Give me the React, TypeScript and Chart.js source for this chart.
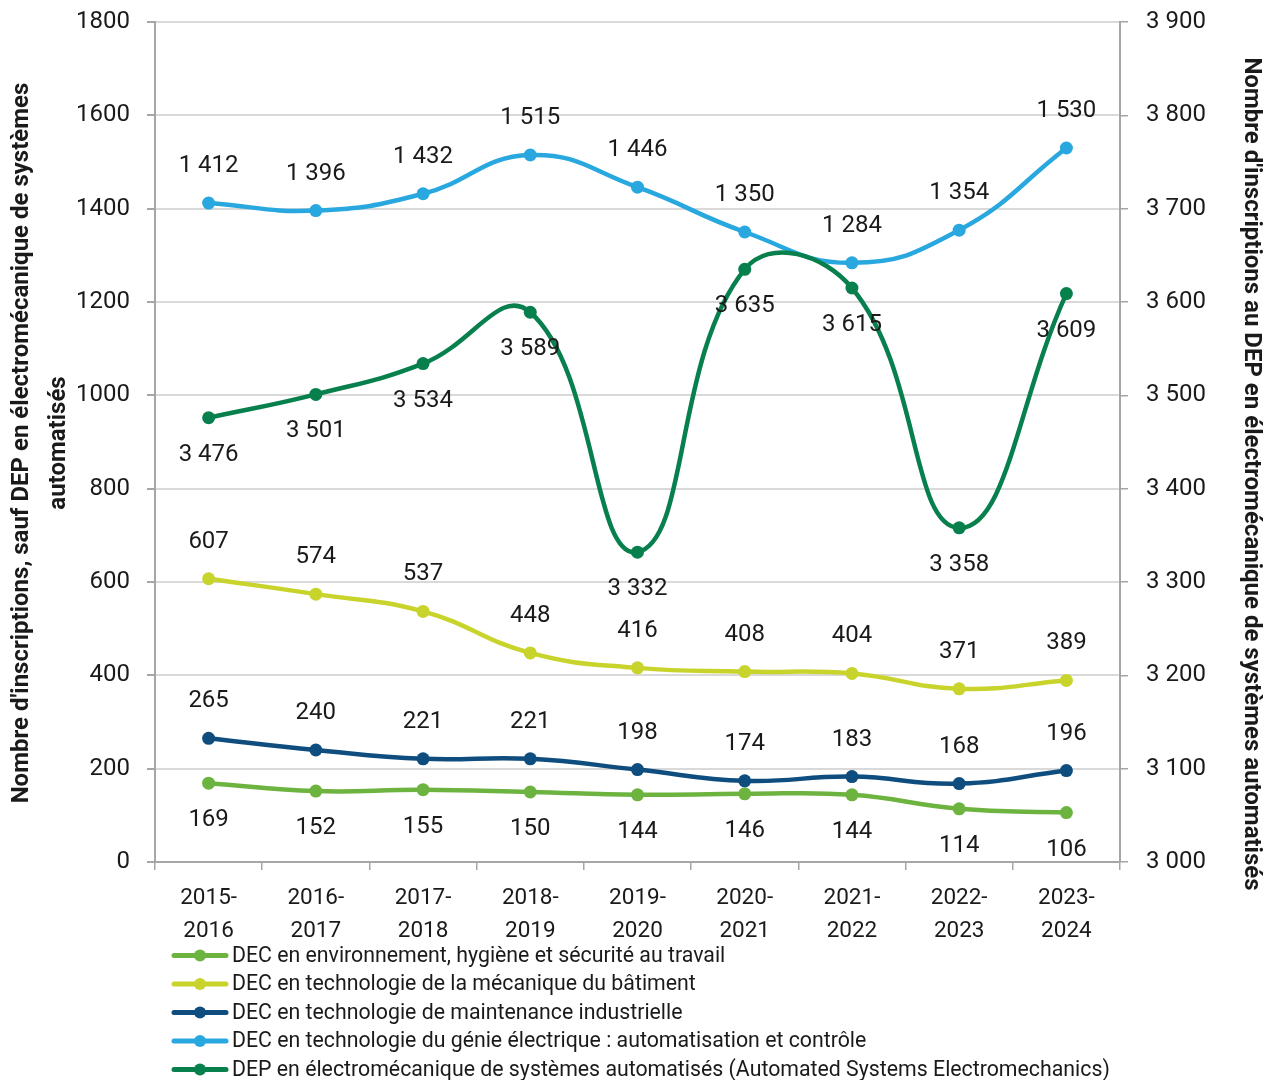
import React, { useEffect, useRef } from "react";
import { Chart, registerables } from "chart.js";

Chart.register(...registerables);

const categories: string[][] = [
  ["2015-", "2016"],
  ["2016-", "2017"],
  ["2017-", "2018"],
  ["2018-", "2019"],
  ["2019-", "2020"],
  ["2020-", "2021"],
  ["2021-", "2022"],
  ["2022-", "2023"],
  ["2023-", "2024"],
];

const envHygiene = [169, 152, 155, 150, 144, 146, 144, 114, 106];
const mecaBatiment = [607, 574, 537, 448, 416, 408, 404, 371, 389];
const maintenance = [265, 240, 221, 221, 198, 174, 183, 168, 196];
const genieElec = [1412, 1396, 1432, 1515, 1446, 1350, 1284, 1354, 1530];
const depElectromeca = [3476, 3501, 3534, 3589, 3332, 3635, 3615, 3358, 3609];

const seriesNames = [
  "DEC en environnement, hygiène et sécurité au travail",
  "DEC en technologie de la mécanique du bâtiment",
  "DEC en technologie de maintenance industrielle",
  "DEC en technologie du génie électrique : automatisation et contrôle",
  "DEP en électromécanique de systèmes automatisés (Automated Systems Electromechanics)",
];
const seriesColors = ["#6db33f", "#c8d42c", "#0e4d7e", "#29a7df", "#08804e"];
const labelSides = ["below", "above", "above", "above", "below"];

const leftTicks = [0, 200, 400, 600, 800, 1000, 1200, 1400, 1600, 1800];
const rightTicks = [3000, 3100, 3200, 3300, 3400, 3500, 3600, 3700, 3800, 3900];

const leftTitle = ["Nombre d'inscriptions, sauf DEP en électromécanique de systèmes", "automatisés"];
const rightTitle = "Nombre d'inscriptions au DEP en électromécanique de systèmes automatisés";

const FONT = "Roboto, 'Noto Sans', sans-serif";
const TEXT = "#1a1a1a";

const fmt = (v: number) => String(v).replace(/\B(?=(\d{3})+(?!\d))/g, " ");

const labelPlugin = {
  id: "dataLabels",
  afterDatasetsDraw(chart: any) {
    const ctx = chart.ctx;
    ctx.save();
    ctx.font = `24px ${FONT}`;
    ctx.fillStyle = TEXT;
    ctx.textAlign = "center";
    ctx.textBaseline = "middle";
    chart.data.datasets.forEach((ds: any, i: number) => {
      const meta = chart.getDatasetMeta(i);
      meta.data.forEach((pt: any, j: number) => {
        const off = labelSides[i] === "above" ? -37 : 37;
        ctx.fillText(fmt(ds.data[j]), pt.x, pt.y + off);
      });
    });
    ctx.restore();
  },
};

const decorPlugin = {
  id: "decor",
  afterDraw(chart: any) {
    const ctx = chart.ctx;
    const area = chart.chartArea;
    const cy = (area.top + area.bottom) / 2;
    ctx.save();
    ctx.fillStyle = TEXT;
    ctx.font = `bold 24px ${FONT}`;
    ctx.textAlign = "center";
    ctx.textBaseline = "middle";
    // left title
    ctx.save();
    ctx.translate(22, cy + 1);
    ctx.rotate(-Math.PI / 2);
    ctx.fillText(leftTitle[0], 0, 0);
    ctx.restore();
    ctx.save();
    ctx.translate(59, cy + 1);
    ctx.rotate(-Math.PI / 2);
    ctx.fillText(leftTitle[1], 0, 0);
    ctx.restore();
    // right title
    ctx.save();
    ctx.translate(1251, 474);
    ctx.rotate(Math.PI / 2);
    ctx.fillText(rightTitle, 0, 0);
    ctx.restore();

    // legend
    ctx.font = `21.3px ${FONT}`;
    ctx.textAlign = "left";
    seriesNames.forEach((name, i) => {
      const y = 955.5 + i * 28.5;
      ctx.strokeStyle = seriesColors[i];
      ctx.lineWidth = 5;
      ctx.lineCap = "round";
      ctx.beginPath();
      ctx.moveTo(174, y);
      ctx.lineTo(226, y);
      ctx.stroke();
      ctx.fillStyle = seriesColors[i];
      ctx.beginPath();
      ctx.arc(200, y, 6, 0, Math.PI * 2);
      ctx.fill();
      ctx.fillStyle = TEXT;
      ctx.fillText(name, 232, y + 1);
    });
    ctx.restore();
  },
};

export default function App() {
  const ref = useRef<HTMLCanvasElement>(null);
  useEffect(() => {
    if (!ref.current) return;
    Chart.defaults.font.family = FONT;
    const seriesData = [envHygiene, mecaBatiment, maintenance, genieElec, depElectromeca];
    const chart = new Chart(ref.current, {
      type: "line",
      data: {
        labels: categories as any,
        datasets: seriesData.map((d, i) => ({
          label: seriesNames[i],
          data: d,
          borderColor: seriesColors[i],
          backgroundColor: seriesColors[i],
          borderWidth: 4.5,
          pointRadius: 6.5,
          pointHoverRadius: 6.5,
          pointBorderWidth: 0,
          tension: 0.45,
          fill: false,
          yAxisID: i === 4 ? "y2" : "y",
          order: i === 4 ? 0 : 5 - i,
        })),
      },
      options: {
        responsive: false,
        animation: false,
        events: [],
        layout: { padding: { top: 22, left: 0, right: 0, bottom: 0 } },
        plugins: { legend: { display: false }, tooltip: { enabled: false }, title: { display: false } },
        scales: {
          x: {
            type: "category",
            offset: true,
            grid: {
              display: true,
              drawOnChartArea: false,
              drawTicks: true,
              tickLength: 8,
              color: "#a6a6a6",
              lineWidth: 1.5,
              offset: true,
            },
            border: { display: true, color: "#a6a6a6", width: 2 },
            ticks: {
              color: TEXT,
              font: { size: 22.5, lineHeight: 1.47 },
              maxRotation: 0,
              autoSkip: false,
              padding: 12,
            },
            afterFit(s: any) {
              s.height = 218;
              s.paddingLeft = 0;
              s.paddingRight = 0;
            },
          },
          y: {
            type: "linear",
            position: "left",
            min: 0,
            max: 1800,
            afterBuildTicks(s: any) {
              s.ticks = leftTicks.map((v) => ({ value: v }));
            },
            grid: {
              color: "#d9d9d9",
              lineWidth: 2,
              tickColor: "#a6a6a6",
              tickLength: 8,
              drawTicks: true,
            },
            border: { display: true, color: "#a6a6a6", width: 2 },
            ticks: {
              color: TEXT,
              font: { size: 24 },
              padding: 17,
              callback: (v: any) => String(v),
            },
            afterFit(s: any) {
              s.width = 155;
              s.paddingTop = 0;
              s.paddingBottom = 0;
            },
          },
          y2: {
            type: "linear",
            position: "right",
            min: 3000,
            max: 3900,
            afterBuildTicks(s: any) {
              s.ticks = rightTicks.map((v) => ({ value: v }));
            },
            grid: {
              drawOnChartArea: false,
              tickColor: "#a6a6a6",
              tickLength: 8,
              drawTicks: true,
              lineWidth: 1.5,
            },
            border: { display: true, color: "#a6a6a6", width: 2 },
            ticks: {
              color: TEXT,
              font: { size: 24 },
              padding: 18,
              callback: (v: any) => fmt(Number(v)),
            },
            afterFit(s: any) {
              s.width = 155;
              s.paddingTop = 0;
              s.paddingBottom = 0;
            },
          },
        },
      },
      plugins: [labelPlugin, decorPlugin],
    } as any);
    return () => chart.destroy();
  }, []);

  return (
    <div style={{ position: "absolute", left: 0, top: 0, width: 1275, height: 1080, background: "#fff" }}>
      <canvas ref={ref} width={1275} height={1080} style={{ display: "block" }} />
    </div>
  );
}
